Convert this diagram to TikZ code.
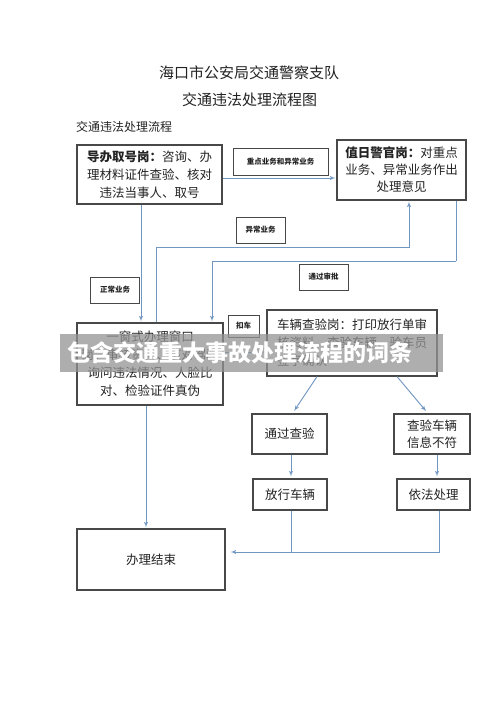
\documentclass[tikz,border=0pt]{standalone}
\usepackage{fontspec}
\setmainfont{Noto Sans CJK SC}
\usepackage{xcolor}
\usepackage{tikz}
\usetikzlibrary{shapes,arrows,positioning}
\definecolor{flowblue}{RGB}{112,150,194}
\definecolor{boxgray}{RGB}{72,72,72}
\definecolor{inkgray}{RGB}{35,35,35}
\pgfdeclarelayer{foreground}
\pgfsetlayers{main,foreground}

\begin{document}
\begin{tikzpicture}[x=1pt,y=-1pt]

\tikzstyle{post}=[draw=boxgray, line width=1.1pt, fill=white, text=inkgray,
    inner sep=2pt, align=center, font=\fontsize{12.5}{18}\selectfont]
\tikzstyle{tag}=[draw=boxgray, line width=0.8pt, fill=white, text=inkgray,
    inner sep=0pt, minimum height=26pt, font=\fontsize{7.5}{9}\bfseries\selectfont]
\tikzstyle{flow}=[draw=flowblue, line width=0.9pt, -latex', shorten >=1pt]
\tikzstyle{link}=[draw=flowblue, line width=0.9pt]

\useasboundingbox[fill=white] (0,0) rectangle (500,706);

% titles
\node[text=inkgray, font=\fontsize{15}{15}\selectfont] (org) at (249,73) {海口市公安局交通警察支队};
\node[text=inkgray, font=\fontsize{15}{15}\selectfont] (title) at (249.5,100) {交通违法处理流程图};
\node[text=inkgray, anchor=west, inner sep=0pt, font=\fontsize{12}{12}\selectfont] (sub) at (76,127) {交通违法处理流程};

% posts
\node[post, minimum width=145pt, minimum height=59pt] (guide) at (149.5,174.5)
    {\textbf{导办取号岗：}咨询、办\\理材料证件查验、核对\\违法当事人、取号};
\node[post, minimum width=129pt, minimum height=60pt, font=\fontsize{12.5}{17}\selectfont] (duty) at (401.5,170)
    {\textbf{值日警官岗：}对重点\\业务、异常业务作出\\处理意见};
\node[post, minimum width=146pt, minimum height=82pt] (window) at (150,364)
    {一窗式办理窗口\\岗：审核资料、核对驾驶\\询问违法情况、人脸比\\对、检验证件真伪};
\node[post, minimum width=170pt, minimum height=66pt, align=left] (check) at (352,343)
    {车辆查验岗：打印放行单审\\核资料、查验车辆、验车员\\签字确认};
\node[post, minimum width=75pt, minimum height=40pt] (pass) at (289.5,434) {通过查验};
\node[post, minimum width=76pt, minimum height=40pt, font=\fontsize{12.5}{17}\selectfont] (fail) at (432,434) {查验车辆\\信息不符};
\node[post, minimum width=74pt, minimum height=31pt] (release) at (290,494.5) {放行车辆};
\node[post, minimum width=73pt, minimum height=31pt] (punish) at (433.5,494.5) {依法处理};
\node[post, minimum width=148pt, minimum height=61pt] (finish) at (151,559.5) {办理结束};

% tags
\node[tag, minimum width=95pt, minimum height=27pt] (keytag) at (280.5,161.5) {重点业务和异常业务};
\node[tag, minimum width=49pt] (normtag) at (115,290) {正常业务};
\node[tag, minimum width=49pt] (abntag) at (260.5,230) {异常业务};
\node[tag, minimum width=49pt] (apvtag) at (323.5,277) {通过审批};
\node[tag, minimum width=31pt, minimum height=22pt] (holdtag) at (243.5,326) {扣车};

% connectors
\coordinate (keyy) at (0,178);
\coordinate (abn) at (409,247);
\coordinate (apv) at (456,261);
\coordinate (hold) at (0,352);
\coordinate (join) at (0,552);

\draw[flow] (guide.east |- keyy) -- (duty.west |- keyy);
\draw[flow] ([xshift=-8.5pt]guide.south) -- ([xshift=-9pt]window.north);
\draw[flow] ([xshift=6pt]window.north) |- (abn) -- (abn |- duty.south);
\draw[link] (apv |- duty.south) -- (apv);
\draw[flow] (apv) -| ([xshift=62pt]window.north);
\draw[flow] (window.east |- hold) -- (check.west |- hold);

\draw[flow, shorten >=3pt] ([xshift=-35pt]check.south) -- ([xshift=3pt]pass.north);
\draw[flow, shorten >=3pt] ([xshift=45pt]check.south) -- ([xshift=-4pt]fail.north);
\draw[flow, shorten >=2pt] ([xshift=1.5pt]pass.south) -- ([xshift=1pt]release.north);
\draw[flow, shorten >=2pt] ([xshift=5pt]fail.south) -- ([xshift=3.5pt]punish.north);

\draw[link] ([xshift=1pt]release.south) -- ([xshift=1pt]release.south |- join);
\draw[flow, shorten >=5pt] ([xshift=5.5pt]punish.south) -- ([xshift=5.5pt]punish.south |- join)
    -- (finish.east |- join);
\draw[flow] ([xshift=-4pt]window.south) -- ([xshift=-4pt]window.south |- finish.north);

% banner
\begin{pgfonlayer}{foreground}
    \fill[black!42, opacity=0.75] (60,334) rectangle (443,372);
    \node[text=white, font=\fontsize{23}{23}\bfseries\selectfont] (banner) at (240,353)
        {包含交通重大事故处理流程的词条};
\end{pgfonlayer}

\end{tikzpicture}
\end{document}
